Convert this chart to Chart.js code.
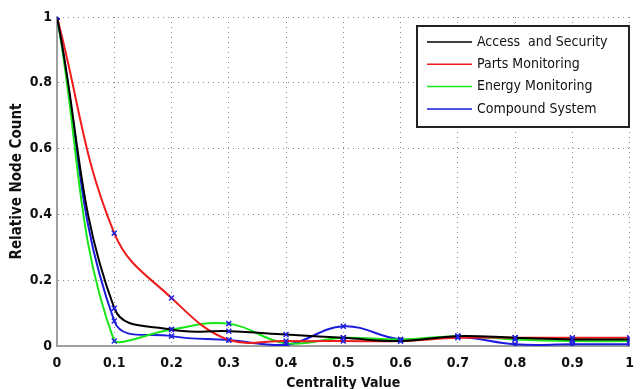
<!DOCTYPE html>
<html>
<head>
<meta charset="utf-8">
<script src="https://cdn.jsdelivr.net/npm/chart.js@4/dist/chart.umd.min.js"></script>
<style>
  html, body { margin: 0; padding: 0; background: #fff; }
  #wrap { width: 643px; height: 389px; position: relative; }
</style>
</head>
<body>
<div id="wrap"><canvas id="chart"></canvas></div>
<script>
// Chart data
const centrality = [0, 0.1, 0.2, 0.3, 0.4, 0.5, 0.6, 0.7, 0.8, 0.9, 1];
const accessSecurity = [1, 0.115, 0.05, 0.045, 0.035, 0.025, 0.015, 0.03, 0.025, 0.02, 0.02];
const partsMonitoring = [1, 0.343, 0.146, 0.018, 0.015, 0.015, 0.015, 0.025, 0.025, 0.025, 0.025];
const energyMonitoring = [1, 0.015, 0.05, 0.068, 0.008, 0.025, 0.02, 0.03, 0.02, 0.015, 0.015];
const compoundSystem = [1, 0.076, 0.03, 0.018, 0.003, 0.06, 0.02, 0.028, 0.005, 0.005, 0.005];
const seriesNames = ['Access  and Security', 'Parts Monitoring', 'Energy Monitoring', 'Compound System'];
const seriesColors = ['#000000', '#ee1c1c', '#19e619', '#1c1cdc'];
const yTicks = [0, 0.2, 0.4, 0.6, 0.8, 1];

const FONT = '"Liberation Sans Narrow", "Arial Narrow", "DejaVu Sans Condensed", sans-serif';

function toPoints(values) {
    return values.map((v, i) => ({ x: centrality[i], y: v }));
}

// Legend box drawn inside the plot area
const boxLegend = {
    id: 'boxLegend',
    afterDraw(chart) {
        const ctx = chart.ctx;
        const x0 = 417, y0 = 26, w = 212, h = 101;
        ctx.save();
        ctx.fillStyle = '#fff';
        ctx.fillRect(x0, y0, w, h);
        ctx.strokeStyle = '#222';
        ctx.lineWidth = 2;
        ctx.strokeRect(x0, y0, w, h);
        ctx.font = '14px ' + FONT;
        ctx.textBaseline = 'middle';
        chart.data.datasets.forEach((ds, i) => {
            const y = 42 + i * 22.3;
            ctx.strokeStyle = ds.borderColor;
            ctx.lineWidth = 1.5;
            ctx.beginPath();
            ctx.moveTo(427, y);
            ctx.lineTo(472, y);
            ctx.stroke();
            ctx.fillStyle = '#111';
            ctx.fillText(ds.label, 477, y);
        });
        ctx.restore();
    }
};

const datasets = [accessSecurity, partsMonitoring, energyMonitoring, compoundSystem].map((vals, i) => ({
    label: seriesNames[i],
    data: toPoints(vals),
    borderColor: seriesColors[i],
    backgroundColor: seriesColors[i],
    borderWidth: 2,
    tension: 0.4,
    pointStyle: 'crossRot',
    pointRadius: 3.5,
    pointBorderColor: '#2020e0',
    pointBorderWidth: 1.5,
    fill: false
}));

new Chart(document.getElementById('chart'), {
    type: 'line',
    data: { datasets: datasets },
    options: {
        responsive: true,
        maintainAspectRatio: false,
        animation: false,
        layout: { padding: { left: 0, right: 6, top: 17, bottom: 0 } },
        plugins: {
            legend: { display: false },
            tooltip: { enabled: false }
        },
        scales: {
            x: {
                type: 'linear',
                min: 0,
                max: 1,
                afterFit(scale) { scale.height = 43; },
                afterBuildTicks(scale) { scale.ticks = centrality.map(v => ({ value: v })); },
                ticks: {
                    padding: 9,
                    color: '#111',
                    font: { family: FONT, size: 14, weight: 'bold' },
                    callback: v => String(+v.toFixed(1))
                },
                grid: {
                    drawTicks: false,
                    color: '#8a8a8a',
                    lineWidth: 1
                },
                border: { display: true, color: '#a0a0a0', width: 2, dash: [1, 4] },
                title: {
                    display: true,
                    text: 'Centrality Value',
                    color: '#111',
                    padding: { top: 0, bottom: -3 },
                    font: { family: FONT, size: 14, weight: 'bold' }
                }
            },
            y: {
                min: 0,
                max: 1,
                afterFit(scale) { scale.width = 57; },
                afterBuildTicks(scale) { scale.ticks = yTicks.map(v => ({ value: v })); },
                ticks: {
                    padding: 5,
                    color: '#111',
                    font: { family: FONT, size: 14, weight: 'bold' },
                    callback: v => String(+v.toFixed(1))
                },
                grid: {
                    drawTicks: false,
                    color: '#8a8a8a',
                    lineWidth: 1
                },
                border: { display: true, color: '#a0a0a0', width: 2, dash: [1, 4] },
                title: {
                    display: true,
                    text: 'Relative Node Count',
                    color: '#111',
                    padding: { top: 8 },
                    font: { family: FONT, size: 15, weight: 'bold' }
                }
            }
        }
    },
    plugins: [boxLegend]
});
</script>
</body>
</html>
